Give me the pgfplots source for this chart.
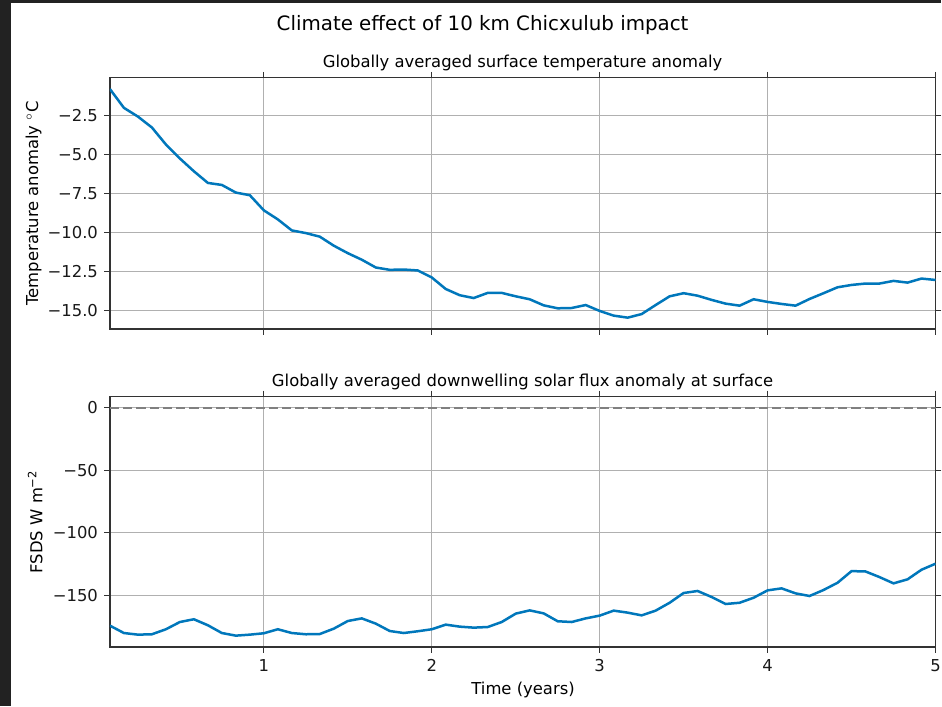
\documentclass[border=0pt]{standalone}
\usepackage{fontspec}
\setmainfont{DejaVu Sans}
\usepackage{pgfplots}
\pgfplotsset{compat=1.18}
\definecolor{lineblue}{RGB}{0,119,187}
\definecolor{gridgray}{RGB}{176,176,176}
\definecolor{darkframe}{RGB}{34,34,34}
\pgfplotstableread{
t T
0.0833 -0.78
0.1667 -1.99
0.2500 -2.55
0.3333 -3.25
0.4167 -4.34
0.5000 -5.24
0.5833 -6.06
0.6667 -6.81
0.7500 -6.94
0.8333 -7.43
0.9167 -7.60
1.0000 -8.57
1.0833 -9.15
1.1667 -9.86
1.2500 -10.03
1.3333 -10.26
1.4167 -10.84
1.5000 -11.32
1.5833 -11.74
1.6667 -12.24
1.7500 -12.39
1.8333 -12.37
1.9167 -12.43
2.0000 -12.88
2.0833 -13.62
2.1667 -14.02
2.2500 -14.20
2.3333 -13.87
2.4167 -13.87
2.5000 -14.09
2.5833 -14.28
2.6667 -14.67
2.7500 -14.86
2.8333 -14.84
2.9167 -14.65
3.0000 -15.03
3.0833 -15.33
3.1667 -15.46
3.2500 -15.23
3.3333 -14.65
3.4167 -14.09
3.5000 -13.89
3.5833 -14.05
3.6667 -14.32
3.7500 -14.56
3.8333 -14.69
3.9167 -14.28
4.0000 -14.45
4.0833 -14.58
4.1667 -14.69
4.2500 -14.26
4.3333 -13.89
4.4167 -13.51
4.5000 -13.36
4.5833 -13.27
4.6667 -13.27
4.7500 -13.10
4.8333 -13.21
4.9167 -12.95
5.0000 -13.04
}\temptable
\pgfplotstableread{
t F
0.0833 -174.2
0.1667 -180.1
0.2500 -181.4
0.3333 -181.1
0.4167 -177.1
0.5000 -171.3
0.5833 -169.1
0.6667 -173.9
0.7500 -180.1
0.8333 -182.2
0.9167 -181.4
1.0000 -180.3
1.0833 -177.1
1.1667 -180.1
1.2500 -181.1
1.3333 -180.9
1.4167 -176.6
1.5000 -170.5
1.5833 -168.4
1.6667 -172.6
1.7500 -178.5
1.8333 -180.1
1.9167 -178.7
2.0000 -177.1
2.0833 -173.4
2.1667 -175.0
2.2500 -175.8
2.3333 -175.3
2.4167 -171.3
2.5000 -164.6
2.5833 -162.0
2.6667 -164.4
2.7500 -170.7
2.8333 -171.3
2.9167 -168.4
3.0000 -166.2
3.0833 -162.2
3.1667 -163.8
3.2500 -166.0
3.3333 -162.2
3.4167 -155.9
3.5000 -148.1
3.5833 -146.5
3.6667 -151.3
3.7500 -156.9
3.8333 -155.9
3.9167 -151.9
4.0000 -146.0
4.0833 -144.4
4.1667 -148.4
4.2500 -150.5
4.3333 -145.7
4.4167 -139.9
4.5000 -130.6
4.5833 -130.9
4.6667 -135.4
4.7500 -140.4
4.8333 -137.2
4.9167 -129.5
5.0000 -124.7
}\fluxtable
\pgfplotsset{
  mystyle/.style={
    scale only axis,
    anchor=south west,
    width=495.78pt,
    xmin=0.08333, xmax=5,
    xtick={1,2,3,4,5},
    grid=major,
    major grid style={gridgray, line width=0.8pt},
    axis line style={line width=0.8pt, black!80},
    tick align=outside,
    major tick length=3.5pt,
    tick style={line width=0.8pt, black!80},
    yticklabel style={inner sep=0pt, anchor=east, xshift=-3.5pt},
    xticklabel style={inner sep=0pt, anchor=north, yshift=-3.5pt},
    tick label style={text=black!90},
    clip=true,
  }
}
\begin{document}
\fontsize{9.85}{11}\selectfont
\begin{tikzpicture}[x=0.6pt,y=0.6pt]
  \fill[darkframe] (0,0) rectangle (942,707);
  \fill[white] (11,0) rectangle (942,704);
  \begin{axis}[mystyle,
    at={(66pt,226.62pt)},
    height=150.96pt,
    ymin=-16.19, ymax=-0.05,
    ytick={-15,-12.5,-10,-7.5,-5,-2.5},
    yticklabels={−15.0,−12.5,−10.0,−7.5,−5.0,−2.5},
    xticklabels={},
  ]
    \addplot[lineblue, line width=1.5pt] table[x=t,y=T] {\temptable};
  \end{axis}
  \begin{axis}[mystyle,
    at={(66pt,35.58pt)},
    height=150.6pt,
    ymin=-191.4, ymax=9.1,
    ytick={-150,-100,-50,0},
    yticklabels={−150,−100,−50,0},
    xticklabels={1,2,3,4,5},
  ]
    \addplot[gray, line width=1.5pt, dash pattern=on 5.55pt off 2.4pt] coordinates {(0.08333,0) (5,0)};
    \addplot[lineblue, line width=1.5pt] table[x=t,y=F] {\fluxtable};
  \end{axis}
  \node[anchor=base, inner sep=0pt, font=\fontsize{11.9}{13}\selectfont] at (483,676) {Climate effect of 10 km Chicxulub impact};
  \node[anchor=base, inner sep=0pt] at (523,639) {Globally averaged surface temperature anomaly};
  \node[anchor=base, inner sep=0pt] at (523,320) {Globally averaged downwelling solar flux anomaly at surface};
  \node[anchor=base, inner sep=0pt] at (523.5,12) {Time (years)};
  \node[rotate=90, anchor=south, inner sep=0pt] at (42,503.5) {Temperature anomaly $^\circ$C};
  \node[rotate=90, anchor=south, inner sep=0pt] at (43,184.8) {FSDS W m\textsuperscript{−2}};
\end{tikzpicture}
\end{document}
